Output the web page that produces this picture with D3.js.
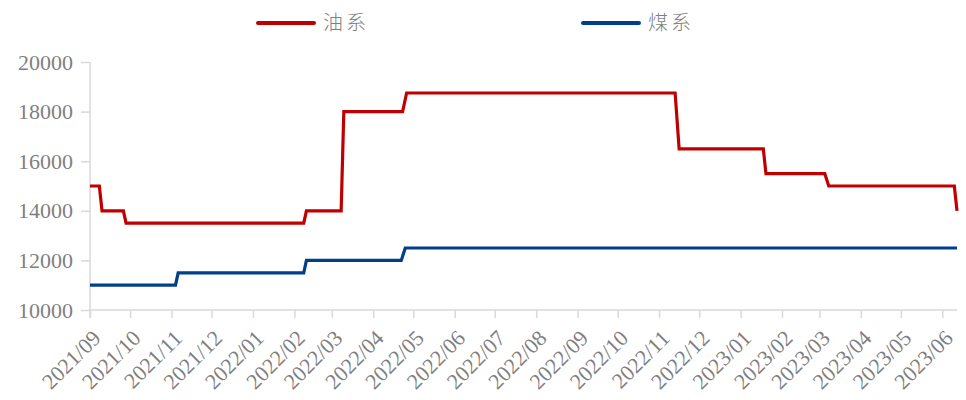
<!DOCTYPE html>
<html><head><meta charset="utf-8">
<script src="https://cdn.jsdelivr.net/npm/d3@7/dist/d3.min.js"></script>
<style>
html,body{margin:0;padding:0;background:#fff;}
.serif text{font-family:"Liberation Serif","DejaVu Serif",serif !important;}
</style></head>
<body>
<svg id="chart" width="966" height="400"></svg>
<script>
const seriesNames = ["油系", "煤系"];
const oilDates = ["2021-09-01","2021-09-08","2021-09-10","2021-09-26","2021-09-28","2022-02-08","2022-02-10","2022-03-08","2022-03-10","2022-04-23","2022-04-26","2022-11-13","2022-11-16","2023-01-18","2023-01-20","2023-03-05","2023-03-08","2023-06-10","2023-06-12"];
const oilValues = [15000,15000,14000,14000,13500,13500,14000,14000,18000,18000,18750,18750,16500,16500,15500,15500,15000,15000,14000];
const coalDates = ["2021-09-01","2021-11-04","2021-11-06","2022-02-08","2022-02-10","2022-04-22","2022-04-25","2023-06-12"];
const coalValues = [11000,11000,11500,11500,12000,12000,12500,12500];
const yTicks = [10000,12000,14000,16000,18000,20000];
const xStart = "2021-09-01", xEnd = "2023-06-12";

const parse = d3.timeParse("%Y-%m-%d");
const svg = d3.select("#chart");
const x = d3.scaleTime().domain([parse(xStart), parse(xEnd)]).range([90, 957]);
const y = d3.scaleLinear().domain([10000, 20000]).range([310, 62]);
const axisColor = "#d9d9d9";
const textColor = "#7f7f7f";

// Y axis
const yAxis = svg.append("g").attr("class","serif").attr("transform","translate(90,0)")
  .call(d3.axisLeft(y).tickValues(yTicks).tickSize(9).tickPadding(8).tickFormat(d3.format("d")));
yAxis.attr("font-family","Liberation Serif").attr("font-size",22);
yAxis.select(".domain").attr("stroke", axisColor).attr("stroke-width",1.5).attr("d","M0,62V318");
yAxis.selectAll(".tick line").attr("stroke", axisColor).attr("stroke-width",1.5);
yAxis.selectAll(".tick text").attr("fill", textColor);

// X axis
const monthTicks = d3.timeMonth.range(parse(xStart), d3.timeDay.offset(parse(xEnd),1));
const xAxis = svg.append("g").attr("class","serif").attr("transform","translate(0,310)")
  .call(d3.axisBottom(x).tickValues(monthTicks).tickSize(8).tickFormat(d3.timeFormat("%Y/%m")));
xAxis.attr("font-family","Liberation Serif").attr("font-size",22);
xAxis.select(".domain").attr("stroke", axisColor).attr("stroke-width",1.5).attr("d","M90,0H957");
xAxis.selectAll(".tick line").attr("stroke", axisColor).attr("stroke-width",1.5);
xAxis.selectAll(".tick text").attr("fill", textColor)
  .attr("text-anchor","end").attr("y",0).attr("dy","0.35em")
  .attr("transform","translate(6,24) rotate(-45)");

// Lines
const line = d3.line().x(d => x(d[0])).y(d => y(d[1]));
const oil = oilDates.map((d,i) => [parse(d), oilValues[i]]);
const coal = coalDates.map((d,i) => [parse(d), coalValues[i]]);
svg.append("path").datum(coal).attr("d", line).attr("fill","none")
  .attr("stroke","#003f8c").attr("stroke-width",3.2);
svg.append("path").datum(oil).attr("d", line).attr("fill","none")
  .attr("stroke","#c00000").attr("stroke-width",3.2);

// Legend
const legend = [
  {name: seriesNames[0], color: "#c00000", x0: 258},
  {name: seriesNames[1], color: "#003f8c", x0: 583}
];
legend.forEach(l => {
  svg.append("line").attr("x1", l.x0).attr("x2", l.x0 + 56).attr("y1", 23).attr("y2", 23)
    .attr("stroke", l.color).attr("stroke-width", 4).attr("stroke-linecap","round");
  svg.append("text").attr("x", l.x0 + 65).attr("y", 23).attr("dy","0.36em")
    .attr("fill", textColor).style("font-family","'Noto Sans CJK SC',sans-serif")
    .style("font-size","20px").style("font-weight","300").style("letter-spacing","3px").text(l.name);
});
</script>
</body></html>
